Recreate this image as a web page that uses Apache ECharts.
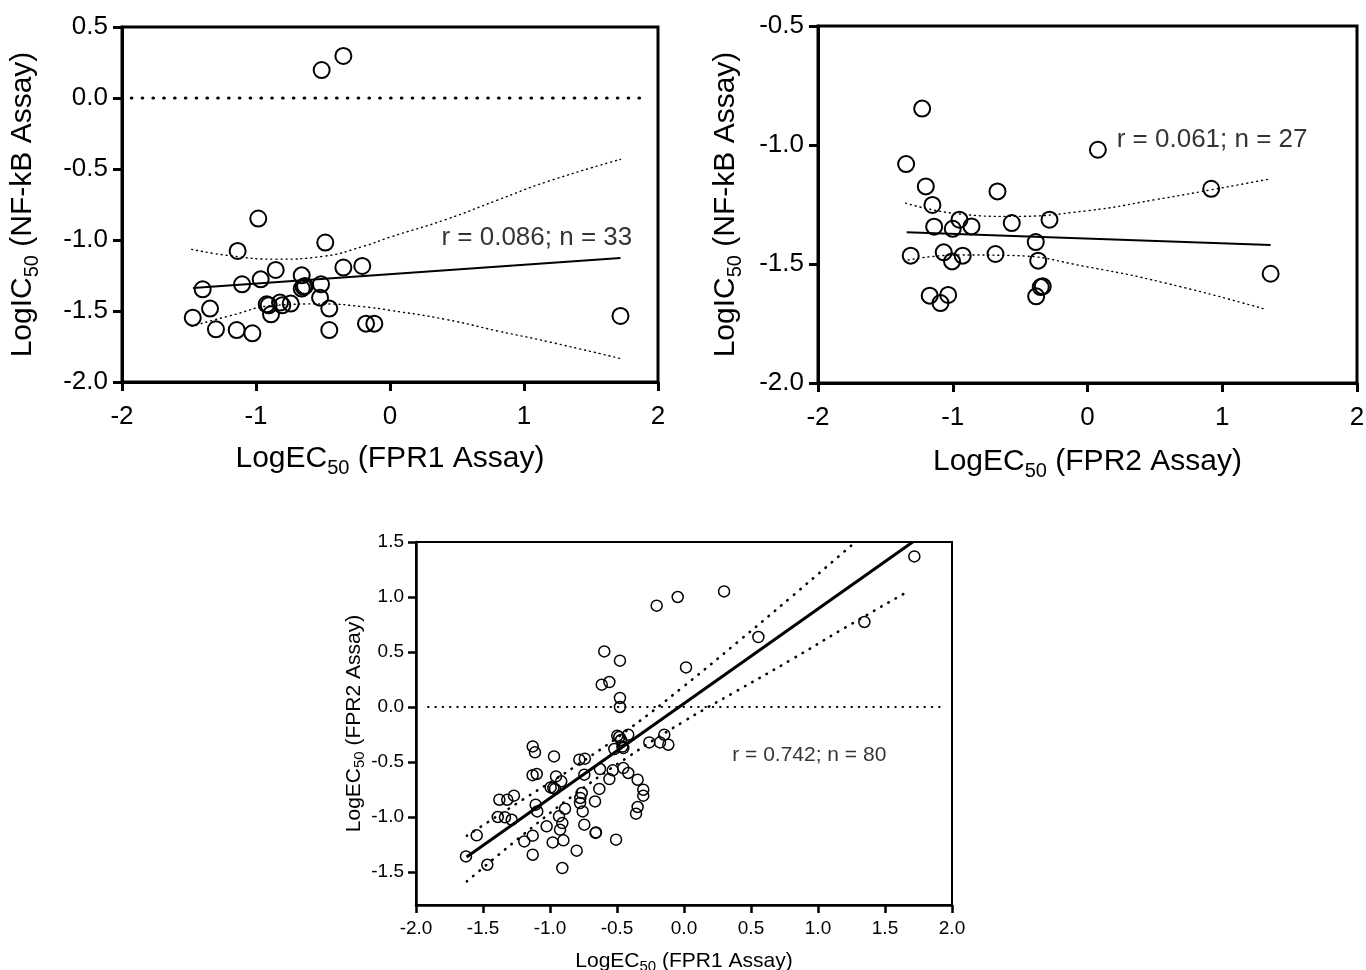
<!DOCTYPE html>
<html><head><meta charset="utf-8">
<script src="https://cdn.jsdelivr.net/npm/echarts@6/dist/echarts.min.js"></script>
<style>html,body{margin:0;padding:0;background:#fff}#c{width:1366px;height:970px}</style>
</head><body><div id="c"></div>
<script>
// ---------- Panel A: FPR1 vs NF-kB ----------
const ptsA = [[-0.51,0.197],[-0.348,0.296],[-0.983,-0.849],[-1.137,-1.077],[-0.483,-1.018],[-1.398,-1.347],[-1.104,-1.312],[-0.965,-1.277],[-0.853,-1.211],[-0.659,-1.249],[-0.659,-1.342],[-0.634,-1.324],[-0.515,-1.312],[-0.348,-1.194],[-0.207,-1.183],[-0.522,-1.406],[-0.453,-1.483],[-0.453,-1.634],[-0.179,-1.589],[-0.117,-1.589],[-1.343,-1.483],[-1.472,-1.547],[-1.299,-1.629],[-1.144,-1.634],[-1.027,-1.657],[-0.920,-1.453],[-0.905,-1.46],[-0.888,-1.523],[-0.821,-1.441],[-0.804,-1.46],[-0.741,-1.448],[-0.645,-1.33],[1.72,-1.535]];
const fitA = [[-1.47,-1.338],[1.72,-1.127]];
const upA = [[-1.48,-1.066],[-1.2,-1.11],[-0.85,-1.135],[-0.5,-1.115],[-0.2,-1.045],[0,-0.98],[0.42,-0.855],[0.8,-0.72],[1.17,-0.59],[1.72,-0.432]];
const loA = [[-1.48,-1.608],[-1.2,-1.535],[-0.85,-1.46],[-0.5,-1.45],[-0.2,-1.47],[0,-1.495],[0.42,-1.56],[0.8,-1.64],[1.2,-1.72],[1.72,-1.835]];
const zeroA = [[-1.93,0],[1.93,0]];
const noteA = 'r = 0.086; n = 33';
const noteAPos = [[0.38,-0.985]];

// ---------- Panel B: FPR2 vs NF-kB ----------
const ptsB = [[-1.227,-0.847],[-1.346,-1.080],[-1.200,-1.174],[-1.151,-1.252],[-0.668,-1.195],[-0.950,-1.314],[-0.861,-1.342],[-1.000,-1.352],[-1.138,-1.343],[-0.562,-1.328],[-0.282,-1.314],[-0.384,-1.408],[-1.312,-1.465],[-1.067,-1.451],[-1.005,-1.489],[-0.926,-1.465],[-0.683,-1.458],[-0.366,-1.486],[-0.332,-1.594],[-0.347,-1.597],[-0.381,-1.636],[-1.171,-1.633],[-1.034,-1.630],[-1.091,-1.664],[0.077,-1.020],[0.918,-1.184],[1.359,-1.541]];
const fitB = [[-1.342,-1.367],[1.359,-1.420]];
const upB = [[-1.35,-1.244],[-0.95,-1.29],[-0.58,-1.30],[0,-1.276],[0.5,-1.23],[0.92,-1.188],[1.35,-1.143]];
const loB = [[-1.33,-1.483],[-0.95,-1.462],[-0.58,-1.464],[0,-1.512],[0.68,-1.594],[1.33,-1.692]];
const noteB = 'r = 0.061; n = 27';
const noteBPos = [[0.213,-0.98]];

// ---------- Panel C: FPR1 vs FPR2 ----------
const ptsC = [[-1.627,-1.358],[-1.547,-1.167],[-1.468,-1.434],[-1.378,-0.843],[-1.319,-0.843],[-1.269,-0.806],[-1.390,-1.0],[-1.336,-1.003],[-1.286,-1.025],[-1.129,-0.358],[-1.112,-0.412],[-1.099,-0.609],[-1.107,-0.888],[-1.095,-0.949],[-1.129,-1.170],[-1.192,-1.222],[-1.129,-1.343],[-0.970,-0.449],[-0.955,-0.631],[-0.916,-0.676],[-0.995,-0.731],[-0.975,-0.736],[-0.963,-0.745],[-1.025,-1.085],[-0.933,-0.994],[-0.908,-1.055],[-0.925,-1.115],[-0.980,-1.231],[-0.900,-1.212],[-0.908,-1.464],[-0.801,-1.306],[-0.888,-0.925],[-0.781,-0.479],[-0.744,-0.615],[-0.763,-0.782],[-0.774,-0.827],[-0.776,-0.873],[-0.756,-0.949],[-0.744,-1.070],[-0.664,-0.858],[-0.632,-0.745],[-0.657,-1.14],[-0.498,-0.261],[-0.483,-0.273],[-0.416,-0.252],[-0.453,-0.373],[-0.520,-0.382],[-0.259,-0.322],[-0.179,-0.322],[-0.117,-0.343],[-0.147,-0.252],[-0.627,-0.564],[-0.532,-0.576],[-0.453,-0.555],[-0.416,-0.6],[-0.557,-0.655],[-0.346,-0.661],[-0.304,-0.752],[-0.304,-0.806],[-0.346,-0.909],[-0.358,-0.970],[-0.66,-1.145],[-0.507,-1.206],[-0.595,0.505],[-0.478,0.421],[-0.614,0.203],[-0.557,0.227],[-0.478,0.082],[-0.478,0.0],[-0.204,0.921],[-0.047,1.0],[0.299,1.051],[0.015,0.36],[0.555,0.636],[1.719,1.369],[1.346,0.773],[-0.47,-0.30],[-0.46,-0.36],[-0.74,-0.47],[-1.13,-0.62]];
const fitC = [[-1.622,-1.364],[1.707,1.5]];
const upC = [[-1.62,-1.17],[-1.2,-0.84],[-0.8,-0.53],[-0.4,-0.19],[0,0.19],[0.4,0.59],[0.8,1.0],[1.26,1.48]];
const loC = [[-1.62,-1.585],[-1.2,-1.16],[-0.8,-0.78],[-0.4,-0.44],[0,-0.13],[0.4,0.15],[0.8,0.43],[1.2,0.72],[1.67,1.05]];
const zeroC = [[-1.91,0],[1.955,0]];
const noteC = 'r = 0.742; n = 80';
const noteCPos = [[0.356,-0.434]];
const yTicksC = [-1.5,-1,-0.5,0,0.5,1,1.5];

// ---------- styles ----------
const FF = '"Liberation Sans", Arial, Helvetica, sans-serif';
function nm(main, rest){ return '{a|' + main + '}{b|50}{a|' + rest + '}'; }
function rich(sz, sub){ return { a:{fontSize:sz,fontFamily:FF,color:'#000',lineHeight:Math.round(sz*1.25)}, b:{fontSize:sub,fontFamily:FF,color:'#000',verticalAlign:'bottom',lineHeight:sub} }; }

function axisCommon(big){
  return {
    type:'value',
    axisLine:{show:true,onZero:false,lineStyle:{color:'#000',width:big?3:2.5}},
    axisTick:{show:true,inside:false,length:big?9:8,lineStyle:{color:'#000',width:big?3:2.5}},
    splitLine:{show:false},
    axisLabel:{color:'#000',fontFamily:FF,fontSize:big?26:19},
    nameLocation:'middle'
  };
}
function xA(idx,min,max,intv,big,name,gap,margin,dec){
  const a = axisCommon(big);
  return Object.assign(a,{gridIndex:idx,min:min,max:max,interval:intv,name:name,nameGap:gap,
    nameTextStyle:{rich:rich(big?30:21,big?20:15)},
    axisLabel:Object.assign(a.axisLabel,{margin:margin,formatter:v=>v.toFixed(dec)})});
}
function yA(idx,min,max,intv,big,name,gap,margin,custom){
  const a = axisCommon(big);
  const o = Object.assign(a,{gridIndex:idx,min:min,max:max,interval:intv,name:name,nameGap:gap,
    nameTextStyle:{rich:rich(big?30:21,big?20:15)},
    axisLabel:Object.assign(a.axisLabel,{margin:margin,formatter:v=>v.toFixed(1)})});
  if(custom){ o.axisLabel.customValues = custom; o.axisTick.customValues = custom; }
  return o;
}
function scat(idx,data,size,bw){
  return {type:'scatter',xAxisIndex:idx,yAxisIndex:idx,data:data,symbol:'circle',symbolSize:size,
    itemStyle:{color:'rgba(0,0,0,0)',borderColor:'#000',borderWidth:bw,opacity:1},z:5,silent:true};
}
function ln(idx,data,style,smooth){
  return {type:'line',xAxisIndex:idx,yAxisIndex:idx,data:data,showSymbol:false,symbol:'none',smooth:!!smooth,
    lineStyle:style,z:3,silent:true};
}
function note(idx,pos,text,sz){
  return {type:'scatter',xAxisIndex:idx,yAxisIndex:idx,data:pos,symbolSize:1,itemStyle:{color:'rgba(0,0,0,0)'},
    label:{show:true,position:'right',distance:0,formatter:text,color:'#000',fontFamily:FF,fontSize:sz},silent:true,z:6};
}
function grid(l,t,w,h,bw){
  return {left:l,top:t,width:w,height:h,show:true,borderColor:'#000',borderWidth:bw,backgroundColor:'rgba(0,0,0,0)',
    containLabel:false,outerBoundsMode:'none'};
}

const chart = echarts.init(document.getElementById('c'),null,{renderer:'canvas'});
chart.setOption({
  animation:false,
  backgroundColor:'#fff',
  grid:[ grid(122,27,536,355,3), grid(818,26,539,357,3), grid(416,542,536,363,2) ],
  xAxis:[
    xA(0,-2,2,1,true,nm('LogEC',' (FPR1 Assay)'),58,22,0),
    xA(1,-2,2,1,true,nm('LogEC',' (FPR2 Assay)'),60,22,0),
    xA(2,-2,2,0.5,false,nm('LogEC',' (FPR1 Assay)'),43,14,1)
  ],
  yAxis:[
    yA(0,-2,0.5,0.5,true,nm('LogIC',' (NF-kB Assay)'),80,14),
    yA(1,-2,-0.5,0.5,true,nm('LogIC',' (NF-kB Assay)'),73,14),
    yA(2,-1.8,1.5,0.5,false,nm('LogEC',' (FPR2 Assay)'),49,12,yTicksC)
  ],
  series:[
    ln(0,zeroA,{color:'#000',width:3.2,type:[0.5,10.3],cap:'round'}),
    ln(0,fitA,{color:'#000',width:2}),
    ln(0,upA,{color:'#000',width:1.4,type:[1,4],cap:'round'},true),
    ln(0,loA,{color:'#000',width:1.4,type:[1,4],cap:'round'},true),
    scat(0,ptsA,16,2),
    note(0,noteAPos,noteA,26),

    ln(1,fitB,{color:'#000',width:2}),
    ln(1,upB,{color:'#000',width:1.4,type:[1,4],cap:'round'},true),
    ln(1,loB,{color:'#000',width:1.4,type:[1,4],cap:'round'},true),
    scat(1,ptsB,16,2),
    note(1,noteBPos,noteB,26),

    ln(2,zeroC,{color:'#000',width:2,type:[0.5,6.8],cap:'round'}),
    ln(2,fitC,{color:'#000',width:3}),
    ln(2,upC,{color:'#000',width:2.6,type:[0.5,7.8],cap:'round'},true),
    ln(2,loC,{color:'#000',width:2.6,type:[0.5,7.8],cap:'round'},true),
    scat(2,ptsC,11,1.5),
    note(2,noteCPos,noteC,21)
  ]
});
</script></body></html>
